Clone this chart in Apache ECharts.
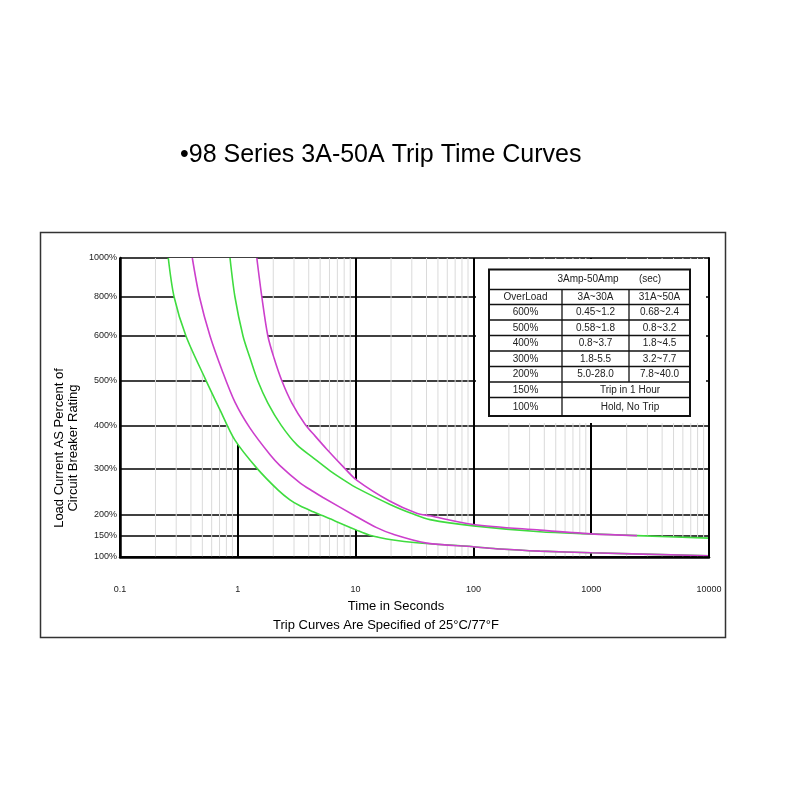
<!DOCTYPE html>
<html><head><meta charset="utf-8">
<script src="https://cdn.jsdelivr.net/npm/echarts@6/dist/echarts.min.js"></script>
<style>html,body{margin:0;padding:0;background:#fff}#c{width:800px;height:800px}</style>
</head><body><div id="c"></div>
<script>
const TITLE = '\u202298 Series 3A-50A Trip Time Curves';
const X_NAME = 'Time in Seconds';
const X_NOTE = 'Trip Curves Are Specified of 25\u00b0C/77\u00b0F';
const Y_NAME = 'Load Current AS Percent of\nCircuit Breaker Rating';
const X_TICKS = [0.1, 1, 10, 100, 1000, 10000];
const Y_TICKS = [100, 150, 200, 300, 400, 500, 600, 800, 1000];
// printed (non-uniform) y scale: axis position of each tick label
const Y_STOPS = [0, 21, 42, 88, 131, 176, 221, 260, 299];

// curves: [seconds, percent]
const G1 = [[0.257,1000],[0.288,800],[0.363,600],[0.527,506],[0.706,436],[0.946,367],[1.45,302],[2.2,254],[2.77,233],[3.37,220],[4.37,207],[5.29,198],[10.2,164],[13.2,152],[20.9,140.5],[33,134],[100,124.5],[168,119],[367,114],[1000,110],[10000,103]];
const M1 = [[0.411,1000],[0.473,800],[0.581,600],[0.735,524],[0.946,453],[1.27,395],[1.88,333],[2.28,308],[3.37,270],[4.37,251],[5.29,238],[10.2,196],[15.1,170],[20.9,154],[40.2,133],[100,124.5],[168,119],[367,114],[1000,110],[10000,103]];
const G2 = [[0.859,1000],[0.946,800],[1.107,600],[1.27,551],[1.48,500],[1.80,451],[2.33,402],[3.18,356],[4.37,326],[6.07,296],[8.4,272],[10.2,259],[19.6,223],[30.9,202],[42.8,189],[100,174],[367,160],[1000,155],[2450,151],[10000,145]];
const M2 = [[1.45,1000],[1.60,800],[1.80,600],[2.03,551],[2.37,500],[2.88,451],[3.72,404],[4.52,377],[5.69,346],[7.87,305],[10.2,276],[19.6,230],[33,204],[42.8,198],[100,177.5],[367,164],[1000,155],[2450,151]];

// table
const TABLE_HEAD = ['3Amp-50Amp', '(sec)'];
const TABLE_COLS = ['OverLoad', '3A~30A', '31A~50A'];
const TABLE_ROWS = [['600%','0.45~1.2','0.68~2.4'],['500%','0.58~1.8','0.8~3.2'],['400%','0.8~3.7','1.8~4.5'],['300%','1.8-5.5','3.2~7.7'],['200%','5.0-28.0','7.8~40.0']];
const TABLE_SPAN = [['150%','Trip in 1 Hour'],['100%','Hold, No Trip']];

const FONT = '"Liberation Sans", Arial, sans-serif';

function yMap(p) {
  if (p <= Y_TICKS[0]) return Y_STOPS[0];
  for (let i = 1; i < Y_TICKS.length; i++) {
    if (p <= Y_TICKS[i]) {
      const f = (p - Y_TICKS[i-1]) / (Y_TICKS[i] - Y_TICKS[i-1]);
      return Y_STOPS[i-1] + f * (Y_STOPS[i] - Y_STOPS[i-1]);
    }
  }
  return Y_STOPS[Y_STOPS.length - 1];
}
const toXY = arr => arr.map(p => [p[0], yMap(p[1])]);

const MINOR_X = [];
for (let i = 0; i < X_TICKS.length - 1; i++) {
  for (let k = 2; k <= 9; k++) MINOR_X.push([Number((X_TICKS[i] * k).toPrecision(6)), 0]);
}
const lastM2 = M2[M2.length - 1][0];
const BAND = M2.concat(G2.filter(p => p[0] > lastM2)).concat(G1.slice().reverse());

const Y_MAX = Y_STOPS[Y_STOPS.length - 1];

// table graphic
const TX = [489, 562, 629, 690];
const TY = [269.5, 289.5, 304.5, 320, 335.5, 351, 366.5, 382, 397.5, 416];
const graphics = [];
graphics.push({type:'rect', z:0, shape:{x:40.5, y:232.5, width:685, height:405}, style:{fill:'none', stroke:'#333', lineWidth:1.5}});
graphics.push({type:'text', z:5, x:180, y:155, style:{text:TITLE, font:'25px ' + FONT, fill:'#000', align:'left', verticalAlign:'middle'}});
graphics.push({type:'text', z:5, x:66, y:448, rotation:Math.PI/2, style:{text:Y_NAME, font:'13px ' + FONT, fill:'#000', align:'center', verticalAlign:'middle', lineHeight:14}});
graphics.push({type:'text', z:5, x:396, y:606, style:{text:X_NAME, font:'13px ' + FONT, fill:'#000', align:'center', verticalAlign:'middle'}});
graphics.push({type:'text', z:5, x:386, y:625, style:{text:X_NOTE, font:'13px ' + FONT, fill:'#000', align:'center', verticalAlign:'middle'}});
graphics.push({type:'rect', z:1.5, shape:{x:476, y:259, width:230, height:164}, style:{fill:'#fff'}});
graphics.push({type:'rect', z:5, shape:{x:TX[0], y:TY[0], width:TX[3]-TX[0], height:TY[9]-TY[0]}, style:{fill:'none', stroke:'#111', lineWidth:2}});
for (let r = 1; r < TY.length - 1; r++) {
  graphics.push({type:'line', z:5, shape:{x1:TX[0], y1:TY[r], x2:TX[3], y2:TY[r]}, style:{stroke:'#111', lineWidth:1.3}});
}
[1, 2].forEach(c => {
  graphics.push({type:'line', z:5, shape:{x1:TX[c], y1:TY[1], x2:TX[c], y2:(c === 2 ? TY[7] : TY[9])}, style:{stroke:'#111', lineWidth:1.3}});
});
const cellText = (t, x, y) => graphics.push({type:'text', z:6, x:x, y:y, style:{text:t, font:'10px ' + FONT, fill:'#222', align:'center', verticalAlign:'middle'}});
const mid = i => (TY[i] + TY[i+1]) / 2;
const colMid = c => (TX[c] + TX[c+1]) / 2;
cellText(TABLE_HEAD[0], 588, mid(0));
cellText(TABLE_HEAD[1], 650, mid(0));
TABLE_COLS.forEach((t, c) => cellText(t, colMid(c), mid(1)));
TABLE_ROWS.forEach((row, r) => row.forEach((t, c) => cellText(t, colMid(c), mid(r + 2))));
TABLE_SPAN.forEach((row, r) => {
  cellText(row[0], colMid(0), mid(r + 7));
  cellText(row[1], 630, mid(r + 7));
});

const chart = echarts.init(document.getElementById('c'), null, {renderer:'canvas'});
const curve = (data, color) => ({
  type:'line', data:toXY(data), showSymbol:false, smooth:0.3, clip:true, z:3, silent:true,
  lineStyle:{color:color, width:1.6}
});
chart.setOption({
  animation:false,
  backgroundColor:'#fff',
  grid:{left:120, right:91, top:258, bottom:243, containLabel:false},
  xAxis:[{
    type:'log', logBase:10, min:0.1, max:10000, position:'bottom',
    axisLine:{show:true, lineStyle:{color:'#000', width:2.5}},
    axisTick:{show:false},
    axisLabel:{fontSize:9, color:'#222', fontFamily:FONT, margin:28, formatter:v => String(Number(v.toPrecision(6)))},
    splitLine:{show:true, lineStyle:{color:'#000', width:2}}
  },{
    type:'log', logBase:10, min:0.1, max:10000, position:'top', z:10,
    axisLine:{show:true, lineStyle:{color:'#000', width:1.5}},
    axisTick:{show:false}, axisLabel:{show:false}, splitLine:{show:false}
  }],
  yAxis:[{
    type:'value', min:0, max:Y_MAX,
    axisLine:{show:true, lineStyle:{color:'#000', width:2.5}},
    axisTick:{show:false, customValues:Y_STOPS},
    axisLabel:{customValues:Y_STOPS, fontSize:9, color:'#222', fontFamily:FONT, margin:3,
      formatter:v => { const i = Y_STOPS.indexOf(v); return i >= 0 ? Y_TICKS[i] + '%' : ''; }},
    splitLine:{show:true, lineStyle:{color:'#000', width:1.6}}
  },{
    type:'value', min:0, max:Y_MAX, position:'right', z:10,
    axisLine:{show:true, lineStyle:{color:'#000', width:2}},
    axisTick:{show:false}, axisLabel:{show:false}, splitLine:{show:false}
  }],
  graphic:{elements:graphics},
  series:[
    {type:'custom', z:1, silent:true, clip:true, data:MINOR_X, encode:{x:0, y:1},
      renderItem:(params, api) => {
        const v = api.value(0);
        const a = api.coord([v, Y_MAX]); const b = api.coord([v, 0]);
        return {type:'line', shape:{x1:a[0], y1:a[1], x2:b[0], y2:b[1]}, style:{stroke:'#dadada', lineWidth:1}};
      }},
    {type:'custom', z:2, silent:true, clip:true, data:[[1, 0]], encode:{x:0, y:1},
      renderItem:(params, api) => ({type:'polygon', shape:{points:BAND.map(p => api.coord([p[0], yMap(p[1])]))}, style:{fill:'#fff'}})},
    curve(G1, '#3fdc3f'),
    curve(G2, '#3fdc3f'),
    curve(M1, '#cc3fcc'),
    curve(M2, '#cc3fcc')
  ]
});
</script></body></html>
